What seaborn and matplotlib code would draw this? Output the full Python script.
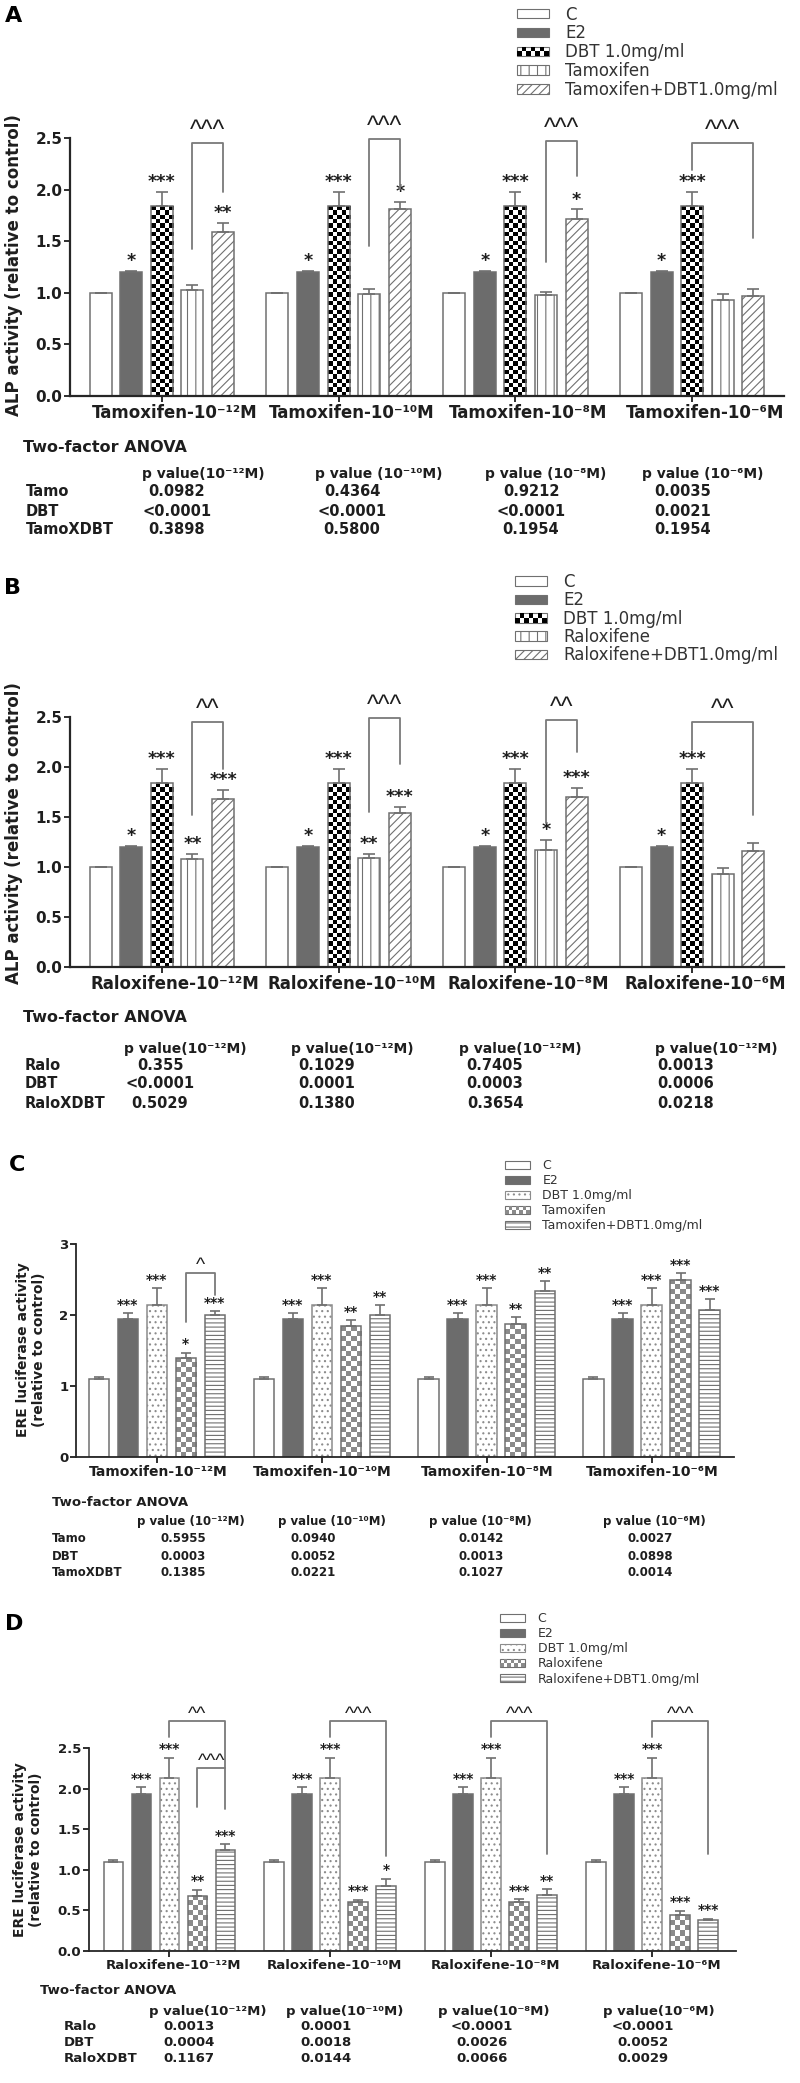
import numpy as np
import pandas as pd
import matplotlib
matplotlib.use('Agg')
import matplotlib.pyplot as plt
import matplotlib.patches as mpatches
from matplotlib.colors import ListedColormap
from matplotlib.legend_handler import HandlerBase
from matplotlib.transforms import ScaledTranslation
import seaborn as sns

W, H = 800, 2083

# ---------------- data ----------------
doses = ['10⁻¹²M', '10⁻¹⁰M', '10⁻⁸M', '10⁻⁶M']
groups_tam = ['Tamoxifen-' + d for d in doses]
groups_ral = ['Raloxifene-' + d for d in doses]
treat_tam = ['C', 'E2', 'DBT 1.0mg/ml', 'Tamoxifen', 'Tamoxifen+DBT1.0mg/ml']
treat_ral = ['C', 'E2', 'DBT 1.0mg/ml', 'Raloxifene', 'Raloxifene+DBT1.0mg/ml']

# rows follow the treatment order, columns follow the doses
alp_tam_mean = [[1.00, 1.00, 1.00, 1.00],
                [1.20, 1.20, 1.20, 1.20],
                [1.84, 1.84, 1.84, 1.84],
                [1.03, 0.99, 0.975, 0.935],
                [1.59, 1.81, 1.715, 0.97]]
alp_tam_err = [[0.0, 0.0, 0.0, 0.0],
               [0.015, 0.015, 0.015, 0.015],
               [0.14, 0.14, 0.14, 0.14],
               [0.045, 0.045, 0.03, 0.05],
               [0.09, 0.07, 0.095, 0.07]]
alp_tam_stars = [['', '', '', ''],
                 ['*', '*', '*', '*'],
                 ['***', '***', '***', '***'],
                 ['', '', '', ''],
                 ['**', '*', '*', '']]
# (dose, from bar, to bar, left leg end, right leg end, top, label)
alp_tam_brackets = [(0, 3, 4, 1.42, 1.98, 2.45, '^^^'),
                    (1, 3, 4, 1.45, 2.01, 2.49, '^^^'),
                    (2, 3, 4, 1.30, 2.13, 2.47, '^^^'),
                    (3, 2, 4, 2.19, 1.53, 2.45, '^^^')]

alp_ral_mean = [[1.00, 1.00, 1.00, 1.00],
                [1.20, 1.20, 1.20, 1.20],
                [1.84, 1.84, 1.84, 1.84],
                [1.085, 1.09, 1.17, 0.935],
                [1.685, 1.545, 1.70, 1.163]]
alp_ral_err = [[0.0, 0.0, 0.0, 0.0],
               [0.015, 0.015, 0.015, 0.015],
               [0.14, 0.14, 0.14, 0.14],
               [0.045, 0.04, 0.10, 0.06],
               [0.085, 0.055, 0.09, 0.075]]
alp_ral_stars = [['', '', '', ''],
                 ['*', '*', '*', '*'],
                 ['***', '***', '***', '***'],
                 ['**', '**', '*', ''],
                 ['***', '***', '***', '']]
alp_ral_brackets = [(0, 3, 4, 1.52, 1.98, 2.45, '^^'),
                    (1, 3, 4, 1.55, 2.03, 2.49, '^^^'),
                    (2, 3, 4, 1.44, 2.15, 2.47, '^^'),
                    (3, 2, 4, 2.17, 1.52, 2.45, '^^')]

ere_tam_mean = [[1.10, 1.10, 1.10, 1.10],
                [1.94, 1.94, 1.94, 1.94],
                [2.14, 2.14, 2.14, 2.14],
                [1.40, 1.84, 1.87, 2.50],
                [2.00, 2.00, 2.34, 2.07]]
ere_tam_err = [[0.02, 0.02, 0.02, 0.02],
               [0.085, 0.085, 0.085, 0.085],
               [0.24, 0.24, 0.24, 0.24],
               [0.07, 0.09, 0.10, 0.09],
               [0.05, 0.14, 0.14, 0.15]]
ere_tam_stars = [['', '', '', ''],
                 ['***', '***', '***', '***'],
                 ['***', '***', '***', '***'],
                 ['*', '**', '**', '***'],
                 ['***', '**', '**', '***']]
ere_tam_brackets = [(0, 3, 4, 1.90, 2.28, 2.59, '^')]

ere_ral_mean = [[1.10, 1.10, 1.10, 1.10],
                [1.93, 1.93, 1.93, 1.93],
                [2.13, 2.13, 2.13, 2.13],
                [0.68, 0.605, 0.605, 0.44],
                [1.24, 0.80, 0.69, 0.385]]
ere_ral_err = [[0.02, 0.02, 0.02, 0.02],
               [0.09, 0.09, 0.09, 0.09],
               [0.25, 0.25, 0.25, 0.25],
               [0.075, 0.025, 0.03, 0.055],
               [0.075, 0.09, 0.07, 0.015]]
ere_ral_stars = [['', '', '', ''],
                 ['***', '***', '***', '***'],
                 ['***', '***', '***', '***'],
                 ['**', '***', '***', '***'],
                 ['***', '*', '**', '***']]
ere_ral_brackets = [(0, 2, 4, 2.63, 1.75, 2.83, '^^'),
                    (0, 3, 4, 1.77, 2.25, 2.25, '^^^'),
                    (1, 2, 4, 2.63, 1.17, 2.83, '^^^'),
                    (2, 2, 4, 2.63, 1.20, 2.83, '^^^'),
                    (3, 2, 4, 2.63, 1.19, 2.83, '^^^')]

# two-factor ANOVA tables
anova_a_head = ['p value(10⁻¹²M)', 'p value (10⁻¹⁰M)', 'p value (10⁻⁸M)', 'p value (10⁻⁶M)']
anova_a_rows = ['Tamo', 'DBT', 'TamoXDBT']
anova_a_vals = [['0.0982', '0.4364', '0.9212', '0.0035'],
                ['<0.0001', '<0.0001', '<0.0001', '0.0021'],
                ['0.3898', '0.5800', '0.1954', '0.1954']]
anova_b_head = ['p value(10⁻¹²M)'] * 4
anova_b_rows = ['Ralo', 'DBT', 'RaloXDBT']
anova_b_vals = [['0.355', '0.1029', '0.7405', '0.0013'],
                ['<0.0001', '0.0001', '0.0003', '0.0006'],
                ['0.5029', '0.1380', '0.3654', '0.0218']]
anova_c_head = ['p value (10⁻¹²M)', 'p value (10⁻¹⁰M)', 'p value (10⁻⁸M)', 'p value (10⁻⁶M)']
anova_c_rows = ['Tamo', 'DBT', 'TamoXDBT']
anova_c_vals = [['0.5955', '0.0940', '0.0142', '0.0027'],
                ['0.0003', '0.0052', '0.0013', '0.0898'],
                ['0.1385', '0.0221', '0.1027', '0.0014']]
anova_d_head = ['p value(10⁻¹²M)', 'p value(10⁻¹⁰M)', 'p value(10⁻⁸M)', 'p value(10⁻⁶M)']
anova_d_rows = ['Ralo', 'DBT', 'RaloXDBT']
anova_d_vals = [['0.0013', '0.0001', '<0.0001', '<0.0001'],
                ['0.0004', '0.0018', '0.0026', '0.0052'],
                ['0.1167', '0.0144', '0.0066', '0.0029']]

# ---------------- style ----------------
sns.set_style('ticks')
plt.rcParams['font.family'] = ['DejaVu Sans']
plt.rcParams['hatch.linewidth'] = 0.8

GRAY = '#6c6c6c'
EDGE = '#707070'
INK = '#1e1e1e'

# bar looks: (face, hatch, checker colour)
look_ab = [('white', None, None), (GRAY, None, None), ('white', None, 'black'),
           ('white', '||', None), ('white', '////', None)]
look_cd = [('white', None, None), (GRAY, None, None), ('white', '...', None),
           ('white', None, '#8a8a8a'), ('white', '----', None)]

fig = plt.figure(figsize=(8, 20.83), dpi=100)


def fx(x):
    return x / W


def fy(y):
    return 1 - y / H


class CheckerHandler(HandlerBase):
    def __init__(self, color, nx=7, ny=2):
        super().__init__()
        self.color, self.nx, self.ny = color, nx, ny

    def create_artists(self, legend, orig, xd, yd, width, height, fontsize, trans):
        arts = [mpatches.Rectangle((-xd, -yd), width, height, fc='white', ec=EDGE,
                                   lw=0.8, transform=trans)]
        cw, ch = width / self.nx, height / self.ny
        for i in range(self.nx):
            for j in range(self.ny):
                if (i + j) % 2 == 0:
                    arts.append(mpatches.Rectangle((-xd + i * cw, -yd + j * ch), cw, ch,
                                                   fc=self.color, ec='none', transform=trans))
        return arts


def checker_fill(ax, bar, cell, color):
    bb = bar.get_window_extent()
    nx = max(1, int(round(bb.width / cell)))
    ny = max(1, int(round(bb.height / cell)))
    grid = np.indices((ny, nx)).sum(axis=0) % 2
    x0, w, h = bar.get_x(), bar.get_width(), bar.get_height()
    im = ax.imshow(grid, extent=(x0, x0 + w, 0, h), origin='lower', aspect='auto',
                   cmap=ListedColormap(['white', color]), interpolation='nearest', zorder=0.5)
    im.set_clip_path(bar)
    bar.set_facecolor('none')


def panel(p):
    ax = fig.add_axes([fx(p['left']), fy(p['bottom']), (p['right'] - p['left']) / W,
                       (p['bottom'] - p['top']) / H])
    rows = []
    for t, vals in zip(p['treats'], p['mean']):
        for g, v in zip(p['groups'], vals):
            rows.append({'group': g, 'treatment': t, 'value': v})
    df = pd.DataFrame(rows)
    sns.barplot(data=df, x='group', y='value', hue='treatment', order=p['groups'],
                hue_order=p['treats'], width=p['width'], gap=p['gap'], errorbar=None,
                legend=False, saturation=1, ax=ax)
    ax.set_xlim(*p['xlim'])
    ax.set_ylim(*p['ylim'])
    ax.set_autoscale_on(False)

    centers = []
    for k, cont in enumerate(ax.containers):
        face, hatch, chk = p['look'][k]
        xs = []
        for bar in cont:
            bar.set_facecolor(face)
            bar.set_edgecolor(p['edge'][k])
            bar.set_linewidth(1.1)
            if hatch:
                bar.set_hatch(hatch)
            xs.append(bar.get_x() + bar.get_width() / 2)
        centers.append(xs)
    for k, cont in enumerate(ax.containers):
        chk = p['look'][k][2]
        if chk:
            for bar in cont:
                checker_fill(ax, bar, p['cell'], chk)

    for k in range(len(p['treats'])):
        top = np.array(p['mean'][k]) + np.array(p['err'][k])
        ax.errorbar(centers[k], p['mean'][k], yerr=[np.zeros(4), p['err'][k]], fmt='none',
                    ecolor=EDGE, elinewidth=1.2, capsize=p['cap'], capthick=1.2, zorder=3)
        for j, s in enumerate(p['stars'][k]):
            if s:
                ax.annotate(s, (centers[k][j], top[j]), xytext=(0, p['star_off']),
                            textcoords='offset points', ha='center', va='bottom',
                            fontsize=p['star_fs'], fontweight='bold', color=INK,
                            annotation_clip=False)

    for g, a, b, ya, yb, yt, lab in p['brackets']:
        xa, xb = centers[a][g], centers[b][g]
        ax.plot([xa, xa, xb, xb], [ya, yt, yt, yb], color='#7a7a7a', lw=1.3,
                clip_on=False, zorder=3)
        ax.annotate(lab, ((xa + xb) / 2, yt), xytext=(0, p['caret_off']),
                    textcoords='offset points', ha='center', va='bottom',
                    fontsize=p['caret_fs'], family=['Liberation Sans', 'DejaVu Sans'],
                    color=INK, annotation_clip=False)

    ax.set_yticks(p['yticks'])
    ax.set_yticklabels([p['yfmt'] % v for v in p['yticks']])
    ax.set_xlabel('')
    ax.set_ylabel('')
    ax.tick_params(axis='x', length=4, width=1.3, pad=p['xpad'], labelsize=p['xfs'],
                   colors=INK)
    ax.tick_params(axis='y', length=4, width=1.3, pad=1.5, labelsize=p['yfs'], colors=INK)
    shift = ScaledTranslation(p['xshift'] / 100, 0, fig.dpi_scale_trans)
    for lab in ax.get_xticklabels():
        lab.set_fontweight('bold')
        lab.set_transform(lab.get_transform() + shift)
    for lab in ax.get_yticklabels():
        lab.set_fontweight('bold')
    sns.despine(ax=ax)
    for s in ['left', 'bottom']:
        ax.spines[s].set_linewidth(p['spine'])
        ax.spines[s].set_color('#262626')

    # legend
    handles, hmap = [], {}
    for k, t in enumerate(p['treats']):
        face, hatch, chk = p['look'][k]
        h = mpatches.Patch(facecolor=face, edgecolor=p['edge'][k], hatch=hatch, lw=0.8)
        if chk:
            hmap[h] = CheckerHandler(chk)
        handles.append(h)
    ax.legend(handles, p['treats'], handler_map=hmap, loc='upper left',
              bbox_to_anchor=(fx(p['leg_x']), fy(p['leg_y'])), bbox_transform=fig.transFigure,
              frameon=False, borderpad=0, borderaxespad=0, fontsize=p['leg_fs'],
              handlelength=p['hlen'], handleheight=p['hhei'], handletextpad=p['hpad'],
              labelspacing=p['lsp'], labelcolor='#333333')

    fig.text(fx(p['lx']), fy(p['ly']), p['ylabel'], rotation=90, ha='center', va='center',
             fontsize=p['ylfs'], fontweight='bold', color=INK, multialignment='center',
             linespacing=1.25)
    fig.text(fx(p['letter_xy'][0]), fy(p['letter_xy'][1]), p['letter'], ha='center',
             va='center', fontsize=16, fontweight='bold', color='black')

    t = p['table']
    fig.text(fx(t['tx']), fy(t['ty']), 'Two-factor ANOVA', fontsize=t['tfs'],
             fontweight='bold', va='center', color=INK)
    for x, hd in zip(t['hx'], t['head']):
        fig.text(fx(x), fy(t['hy']), hd, fontsize=t['hfs'], fontweight='bold', va='center',
                 color=INK)
    for y, lab, vals in zip(t['ry'], t['rows'], t['vals']):
        fig.text(fx(t['lx']), fy(y), lab, fontsize=t['fs'], fontweight='bold', va='center',
                 color=INK)
        for x, v in zip(t['vx'], vals):
            fig.text(fx(x), fy(y), v, fontsize=t['fs'], fontweight='bold', va='center',
                     ha='center', color=INK)


edges = [EDGE] * 5
common_ab = dict(look=look_ab, edge=edges, ylim=(0, 2.5), yticks=[0, 0.5, 1.0, 1.5, 2.0, 2.5],
                 yfmt='%.1f', xlim=(-0.52, 3.52), width=0.865, gap=0.28, cell=4.3, cap=4,
                 star_fs=12.5, star_off=0.5, caret_fs=18, caret_off=0, xfs=12, yfs=11,
                 xpad=2, xshift=13, spine=1.6, leg_fs=12, hlen=1.9, hhei=0.5, hpad=1.0,
                 lsp=0.05, ylfs=12)
common_cd = dict(look=look_cd, edge=[EDGE, EDGE, '#8c8c8c', EDGE, EDGE], cell=5, cap=3.5,
                 star_fs=10, star_off=1, caret_fs=14, caret_off=-1, yfs=9.5, xpad=2,
                 spine=1.3, leg_fs=9, hlen=2.0, hhei=0.6, hpad=1.0, lsp=0.17, ylfs=10)

panels = [
    dict(common_ab, left=70, right=784, top=138, bottom=396, groups=groups_tam,
         treats=treat_tam, mean=alp_tam_mean, err=alp_tam_err, stars=alp_tam_stars,
         brackets=alp_tam_brackets, leg_x=517, leg_y=5.5, lx=14, ly=265,
         ylabel='ALP activity (relative to control)', letter='A', letter_xy=(14, 16),
         table=dict(tx=23, ty=447, tfs=11.5, fs=10.5, hfs=10, hx=[142, 315, 485, 642],
                    hy=474, head=anova_a_head, rows=anova_a_rows, vals=anova_a_vals, lx=26,
                    ry=[492, 511, 530], vx=[177, 352, 531, 683])),
    dict(common_ab, left=70, right=784, top=717, bottom=967, groups=groups_ral,
         treats=treat_ral, mean=alp_ral_mean, err=alp_ral_err, stars=alp_ral_stars,
         brackets=alp_ral_brackets, leg_x=515, leg_y=573, lsp=0.02, lx=14, ly=833,
         ylabel='ALP activity (relative to control)', letter='B', letter_xy=(13, 588),
         table=dict(tx=23, ty=1018, tfs=11.5, fs=10.5, hfs=10, hx=[124, 291, 459, 655],
                    hy=1049, head=anova_b_head, rows=anova_b_rows, vals=anova_b_vals, lx=25,
                    ry=[1065, 1084, 1103], vx=[160, 327, 495, 686])),
    dict(common_cd, left=76, right=734, top=1244, bottom=1457, groups=groups_tam,
         treats=treat_tam, mean=ere_tam_mean, err=ere_tam_err, stars=ere_tam_stars,
         brackets=ere_tam_brackets, ylim=(0, 3), yticks=[0, 1, 2, 3], yfmt='%d',
         xlim=(-0.49, 3.50), width=0.88, gap=0.30, xfs=10, xshift=1, leg_x=505,
         leg_y=1159, lx=31, ly=1350, ylabel='ERE luciferase activity\n(relative to control)',
         letter='C', letter_xy=(17, 1165),
         table=dict(tx=52, ty=1503, tfs=9.5, fs=8.5, hfs=8.5, hx=[137, 278, 429, 603],
                    hy=1522, head=anova_c_head, rows=anova_c_rows, vals=anova_c_vals, lx=52,
                    ry=[1539, 1556, 1573], vx=[183, 313, 481, 650])),
    dict(common_cd, left=89, right=736, top=1748, bottom=1951, groups=groups_ral,
         treats=treat_ral, mean=ere_ral_mean, err=ere_ral_err, stars=ere_ral_stars,
         brackets=ere_ral_brackets, ylim=(0, 2.5), yticks=[0, 0.5, 1.0, 1.5, 2.0, 2.5],
         yfmt='%.1f', xlim=(-0.50, 3.52), width=0.87, gap=0.29, xfs=9.5, xshift=4,
         leg_x=500, leg_y=1612, lx=28, ly=1850,
         ylabel='ERE luciferase activity\n(relative to control)',
         letter='D', letter_xy=(14, 1624),
         table=dict(tx=40, ty=1991, tfs=9.5, fs=9.5, hfs=9.5, hx=[149, 286, 438, 603],
                    hy=2011, head=anova_d_head, rows=anova_d_rows, vals=anova_d_vals, lx=64,
                    ry=[2027, 2043, 2059], vx=[189, 326, 482, 643])),
]

for p in panels:
    panel(p)

fig.savefig('out.png', dpi=100, facecolor='white')
